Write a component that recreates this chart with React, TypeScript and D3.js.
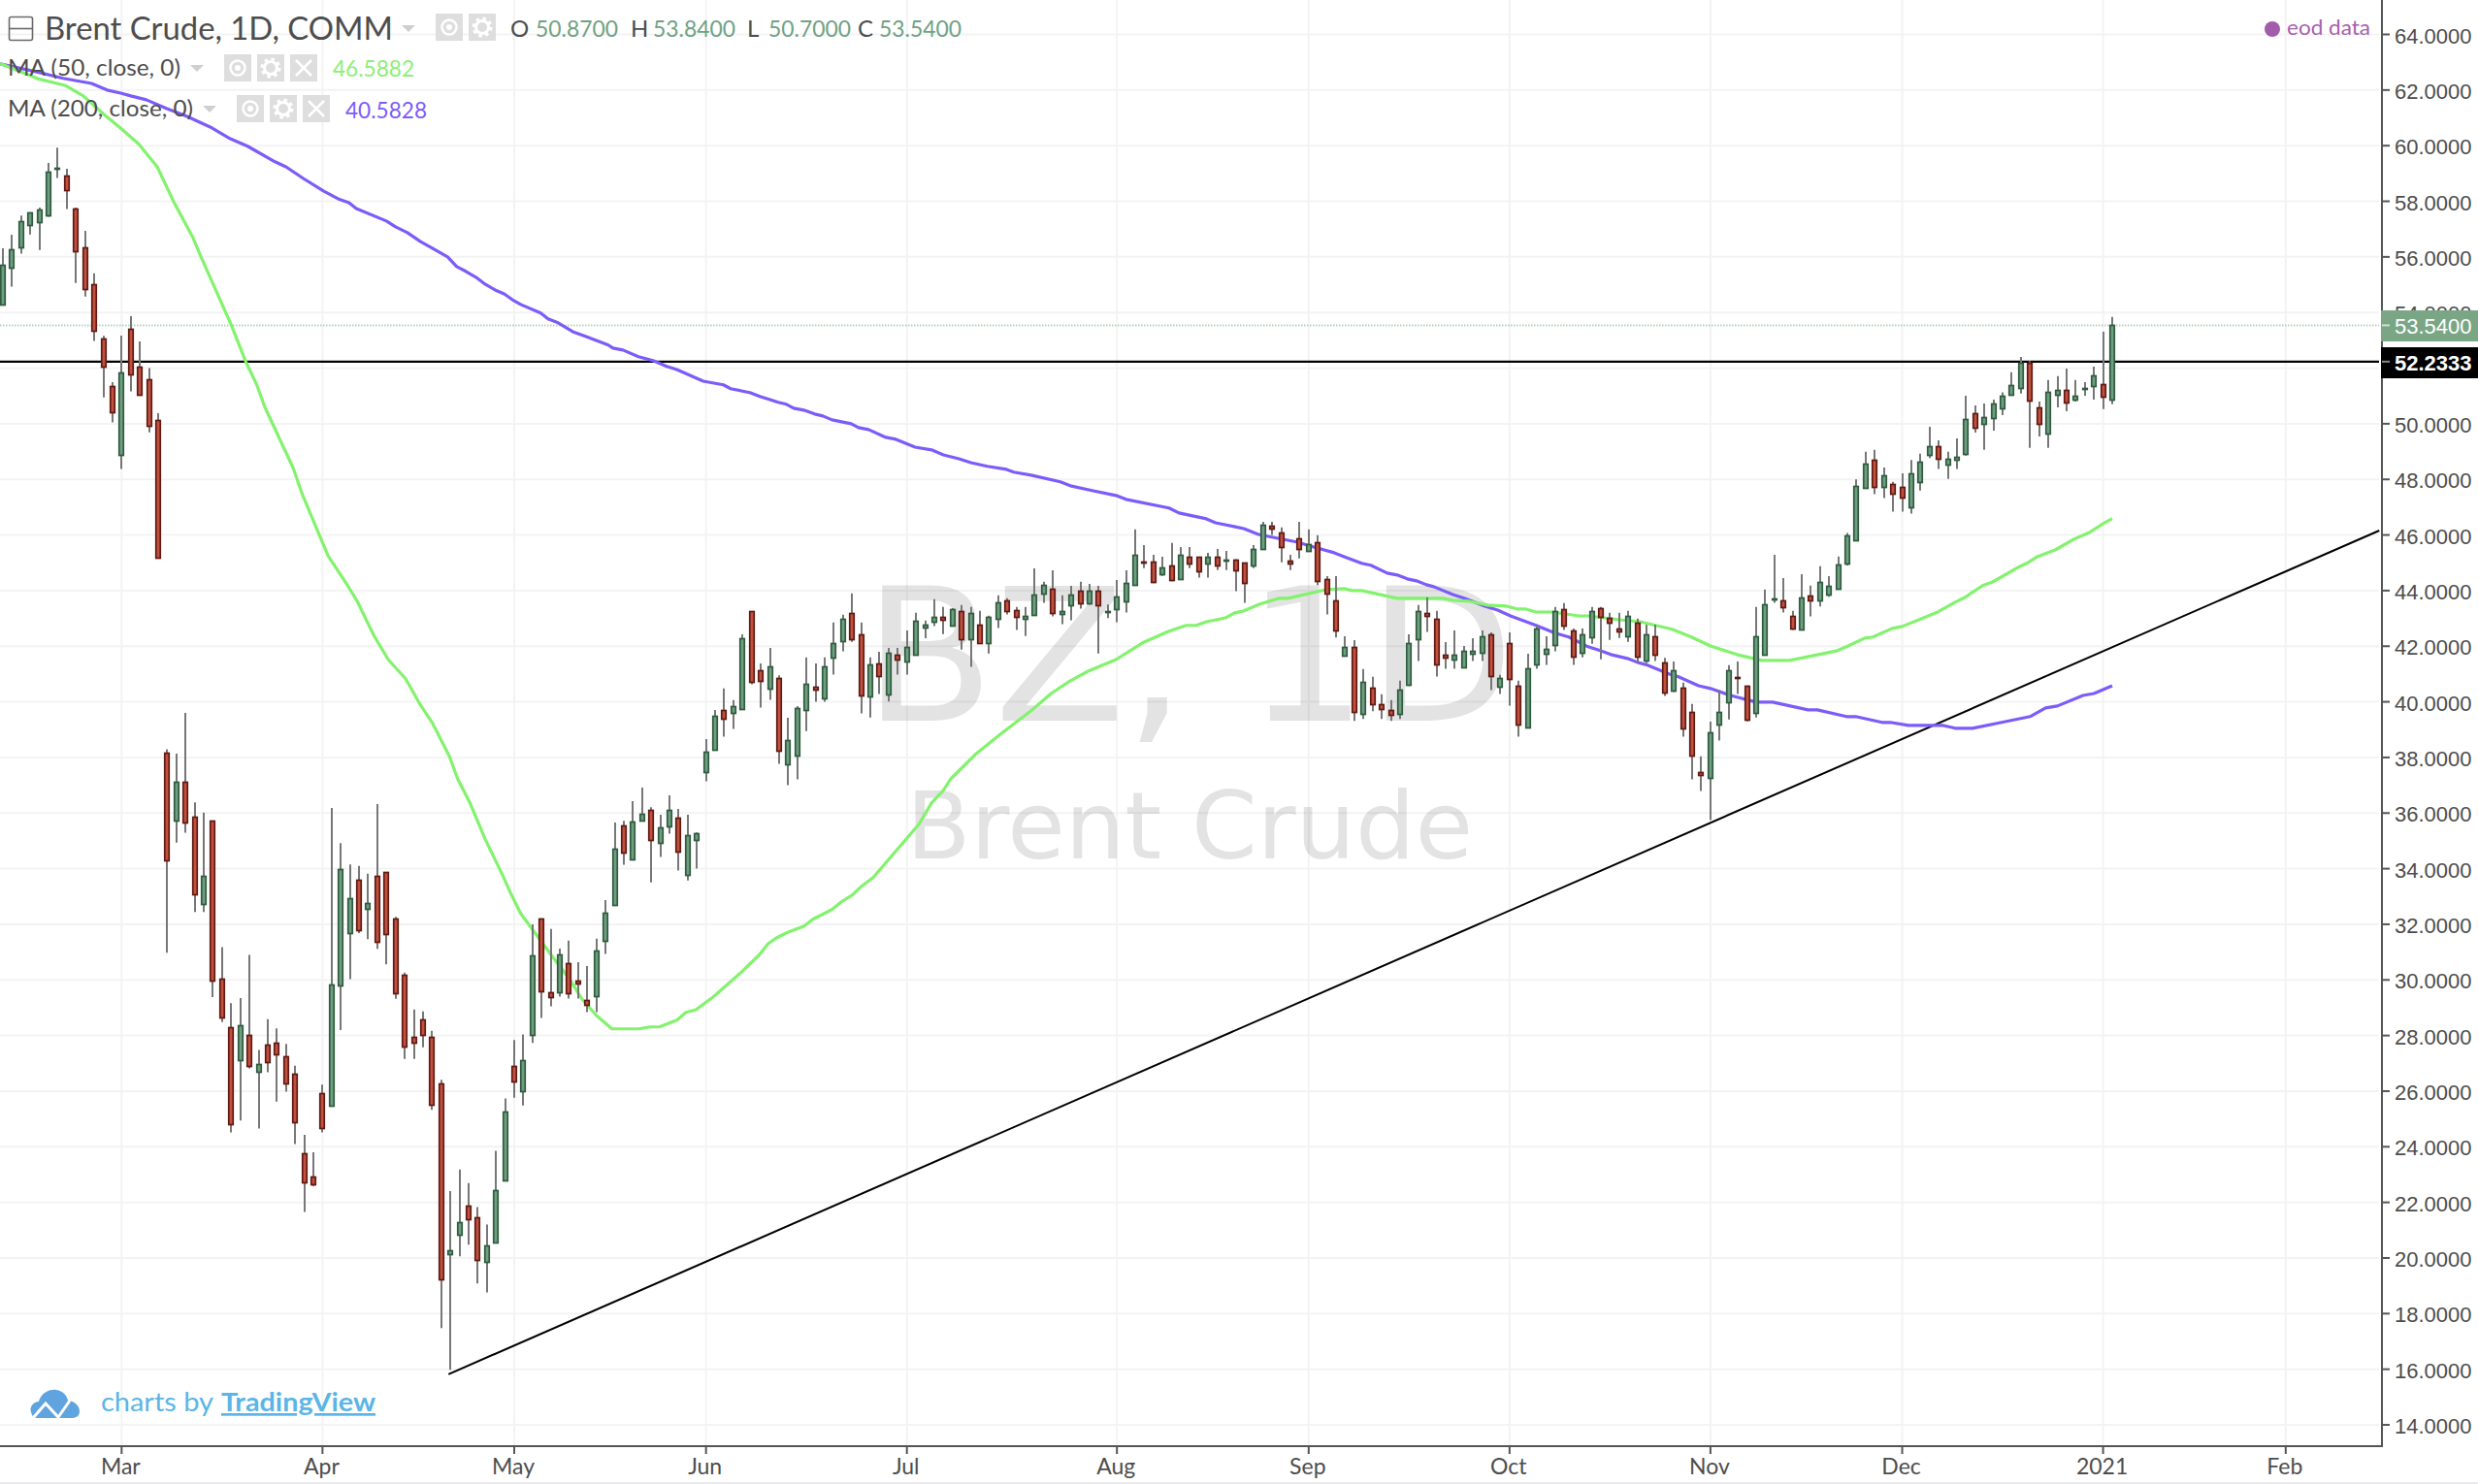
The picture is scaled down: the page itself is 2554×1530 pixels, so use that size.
import React from "react";
import * as d3 from "d3";

const opens = [
  54.31,55.64,56.34,57.17,57.24,57.52,59.20,58.94,57.75,56.36,55.03,53.08,51.34,48.87,53.43,52.05,51.60,50.15,
  38.17,35.73,37.13,35.87,32.73,35.73,30.03,28.31,27.10,28.01,26.69,27.67,27.73,27.25,26.63,23.78,22.93,25.93,25.47,29.81,31.69,33.59,32.53,33.73,33.87,32.20,30.17,27.95,28.57,27.95,26.27,20.14,20.85,21.89,21.47,19.86,20.56,22.79,26.89,25.99,28.01,
  32.22,29.57,29.55,30.62,29.99,29.29,29.41,31.43,32.70,35.57,34.36,35.76,36.13,34.93,35.55,35.85,33.80,35.06,37.50,38.27,39.69,39.60,39.73,43.25,41.15,40.50,40.87,37.78,38.06,39.73,40.54,40.15,41.62,42.18,43.18,42.41,40.22,
  41.39,40.29,41.71,41.48,41.69,42.66,42.86,43.04,42.73,43.25,42.25,42.76,42.10,43.01,43.66,43.31,43.01,43.15,43.92,44.08,43.14,43.50,44.01,43.55,44.01,43.24,43.36,43.64,44.20,45.06,45.06,44.60,44.92,44.41,45.20,45.20,44.96,45.20,45.11,45.13,45.00,44.89,45.52,46.33,46.10,45.07,45.89,45.45,45.75,44.43,
  43.66,41.69,41.99,39.59,40.52,39.90,39.69,39.59,40.64,42.25,43.19,42.97,41.71,41.55,41.27,41.76,41.76,42.41,40.57,42.13,40.59,39.10,41.34,41.76,42.04,43.32,42.55,41.76,42.31,43.38,43.03,42.63,42.38,42.83,41.48,42.34,41.43,40.43,40.52,39.62,37.47,37.29,39.18,40.01,40.89,40.59,39.59,41.69,43.71,43.66,43.10,
  42.60,43.82,43.64,43.85,44.06,44.95,45.81,47.70,48.69,47.70,47.84,47.73,46.98,47.89,48.87,49.19,48.53,48.73,48.92,50.37,49.99,50.20,50.54,51.04,51.31,52.19,50.58,49.62,51.04,51.20,50.87,51.25,51.37,51.41,50.87,
];
const highs = [
  56.31,56.80,57.49,57.61,57.77,59.38,59.93,59.17,57.77,56.94,55.41,53.16,51.50,53.17,53.87,52.96,52.00,50.38,
  38.29,38.14,39.6,36.38,36.02,35.73,31.18,29.16,29.35,30.9,27.48,28.59,28.26,27.7,26.91,24.43,23.8,26.23,36.18,34.92,34.15,34.1,33.82,36.32,33.87,32.27,30.26,28.94,28.87,28.17,26.41,22.41,23.18,22.69,21.83,21.2,23.85,25.74,27.84,28.04,32.0,
  32.22,31.83,31.13,31.41,30.64,30.5,31.48,32.87,35.66,35.72,36.43,36.92,36.21,35.94,36.64,36.15,35.94,35.3,38.66,39.71,40.48,40.06,42.43,43.25,41.38,41.94,40.95,39.43,39.85,41.6,41.38,41.6,42.85,43.13,43.9,42.85,41.6,
  41.8,41.94,41.94,42.57,43.2,42.92,43.69,43.41,43.37,43.48,43.41,43.27,43.1,43.83,43.73,43.41,43.41,44.8,44.32,44.73,43.83,44.17,44.32,44.24,44.17,43.5,44.38,44.73,46.2,45.64,45.29,45.22,45.71,45.57,45.57,45.22,45.36,45.5,45.43,45.13,45.01,45.64,46.47,46.47,46.27,45.29,46.47,46.2,45.99,44.52,
  44.52,42.36,42.22,41.18,40.9,40.27,40.06,40.76,42.43,43.48,43.76,43.27,42.15,42.57,42.01,42.29,42.57,42.5,40.97,42.5,40.76,41.73,42.77,42.36,43.41,43.55,42.64,42.64,43.41,43.41,43.2,43.2,43.27,42.99,42.78,42.78,41.58,41.45,40.69,39.92,38.04,39.29,40.41,41.32,41.45,40.59,43.41,44.04,45.29,44.45,43.27,
  44.59,44.18,44.88,44.52,45.23,46.07,48.0,48.99,49.06,48.43,47.91,48.22,48.7,48.92,49.89,49.4,48.99,49.47,51.01,50.66,50.73,50.87,51.13,51.85,52.4,52.25,50.8,51.57,51.71,51.98,51.57,51.5,52.05,53.31,53.84,
];
const lows = [
  54.31,54.93,56.12,56.81,56.25,57.44,58.84,57.72,55.06,54.57,52.98,50.95,50.05,48.37,51.16,51.03,49.69,45.19,
  30.98,34.94,35.29,32.44,32.44,29.38,28.48,24.52,24.94,26.82,24.66,26.68,25.62,25.98,24.1,21.66,22.58,24.52,25.47,28.2,30.03,31.68,31.47,31.12,30.56,29.32,27.16,27.16,27.58,25.33,17.48,15.98,20.06,20.48,19.08,18.76,20.56,22.79,25.76,25.48,27.73,
  28.63,29.05,29.4,29.33,29.33,28.84,28.84,30.93,32.7,34.14,34.36,35.76,33.51,34.42,35.26,33.93,33.58,34.0,37.14,38.27,38.75,39.03,39.73,40.63,39.79,40.07,37.77,37.0,37.21,38.95,40.0,40.0,40.98,41.82,42.16,39.58,39.44,
  40.28,40.01,40.98,40.98,41.69,42.29,42.72,42.44,42.73,41.88,41.26,42.1,41.74,42.65,43.14,42.58,42.37,43.15,43.56,43.07,42.79,42.93,43.35,43.49,41.74,43.01,42.86,43.21,44.2,44.81,44.27,44.53,44.34,44.41,44.81,44.47,44.47,44.74,44.74,43.98,43.56,44.81,45.52,46.0,45.02,44.74,45.16,45.45,44.2,43.14,
  42.31,41.69,39.31,39.38,39.66,39.38,39.31,39.38,40.57,41.47,42.51,40.91,41.19,41.19,41.27,41.47,41.47,40.42,40.28,39.86,38.75,39.1,41.19,41.33,41.82,42.58,41.33,41.6,42.09,41.53,42.23,42.3,42.16,41.39,41.39,41.47,40.21,40.35,38.75,37.21,36.79,35.75,38.61,39.37,40.28,39.3,39.44,41.69,43.56,43.21,42.58,
  42.6,43.07,43.43,43.78,44.06,44.9,45.81,47.7,47.47,47.33,46.84,46.84,46.77,47.6,48.77,48.37,48.02,48.37,48.85,49.68,49.06,49.75,50.31,51.04,51.09,49.13,49.54,49.13,50.59,50.45,50.8,51.01,50.87,50.53,50.70,
];
const closes = [
  55.73,56.29,57.27,57.61,57.69,59.08,59.22,58.43,56.20,54.87,53.34,52.08,50.41,51.84,51.80,51.03,49.92,45.19,
  34.29,37.13,35.65,33.09,33.73,29.97,28.63,24.81,28.37,26.89,26.97,27.03,27.31,26.27,24.88,22.72,22.65,24.67,29.83,33.99,32.95,31.77,32.75,31.35,31.63,29.53,27.59,27.73,28.00,25.50,19.24,20.29,21.29,21.40,19.94,20.45,22.45,25.25,26.32,27.11,30.88,
  29.62,29.41,30.90,29.55,29.90,29.13,31.04,32.43,34.73,34.58,35.71,35.99,35.06,35.50,36.13,34.64,35.22,35.29,38.22,39.48,39.39,39.83,42.27,40.71,40.78,41.29,38.27,38.64,39.76,40.66,40.42,41.29,42.13,42.97,42.23,40.22,41.36,
  40.92,41.78,41.55,41.99,42.90,42.77,43.04,42.95,43.33,42.25,43.18,42.10,43.04,43.59,43.29,43.08,43.10,43.87,44.22,43.22,43.25,43.87,43.57,44.01,43.50,43.26,43.80,44.29,45.27,45.04,44.34,44.85,44.41,45.27,44.96,44.68,45.20,44.89,45.12,44.75,44.27,45.48,46.38,46.22,45.59,44.95,45.52,45.68,44.34,43.92,
  42.59,41.99,39.66,40.73,39.94,39.73,39.52,40.45,42.13,43.25,43.07,41.34,41.62,41.71,41.85,41.85,42.34,40.92,40.87,40.85,39.18,41.22,42.62,41.92,43.25,42.73,41.62,42.41,43.25,43.08,42.87,42.52,43.10,41.62,42.41,41.69,40.36,41.15,39.04,38.06,37.36,38.92,39.62,41.15,40.85,39.38,42.34,43.52,43.73,43.43,42.66,
  43.75,43.64,44.31,44.17,44.94,45.97,47.77,48.56,47.70,48.13,47.49,47.35,48.21,48.62,49.19,48.73,48.75,48.82,50.16,49.85,50.24,50.72,51.00,51.40,52.20,50.82,49.99,51.13,51.20,50.75,51.00,51.27,51.75,50.97,53.54,
];

const ma50At = [-0.3,4,6.8,8.8,11.2,13,14.9,16.9,18.8,20.8,21.7,25,26.6,27.8,28.7,31.8,32.8,35.6,37.7,38.8,40.6,42.2,44.1,45.7,47,48.9,49.8,51.2,52.8,54.7,55.7,56.7,57.9,59.9,62.1,63.4,65,66.7,69.6,70.9,71.9,73.8,74.8,75.9,77.8,79.7,80.8,82.8,83.8,84.7,86,87.7,88.7,90.8,91.8,93,93.9,95.3,100.3,101.7,103,103.8,106.5,109.1,112.6,114.8,116.9,118.9,121.9,124.8,127.7,129.6,130.7,131.8,133.9,134.9,135.9,137.6,139.7,140.7,145,146.9,147.7,148.8,152.7,157.7,158.8,160.5,162.6,164.7,165.8,166.7,167.9,169.7,172.6,173.6,177.1,179.3,182.8,184.9,187,189.9,192.6,195.7,200.9,201.9,203.9,204.8,206.9,208,211.9,213.8,214.9,216.8,217.9,220.9,221.8,222.8,224.8,226.8,228.5,230,231];
const ma50Val = [62.95,62.39,62.17,61.79,61.09,60.6,60.05,59.24,57.92,56.7,56,53.56,52.23,51.4,50.59,48.4,47.45,45.26,44.21,43.62,42.4,41.52,40.83,39.9,39.26,38.04,37.23,36.33,35.07,33.78,33.05,32.39,31.86,30.96,30.01,29.32,28.72,28.24,28.24,28.31,28.31,28.55,28.83,28.93,29.39,29.94,30.26,30.89,31.3,31.51,31.72,31.93,32.18,32.53,32.8,33.05,33.33,33.68,35.59,36.36,36.82,37.23,38.11,38.8,39.68,40.3,40.76,41.11,41.52,42.12,42.54,42.75,42.75,42.88,43.02,43.2,43.27,43.51,43.72,43.72,44.04,44.07,44,44,43.72,43.72,43.65,43.62,43.48,43.44,43.34,43.34,43.23,43.23,43.09,43.09,42.95,42.88,42.61,42.33,42.01,41.7,41.49,41.49,41.84,41.98,42.29,42.33,42.64,42.71,43.23,43.58,43.76,44.18,44.31,44.87,45.01,45.22,45.47,45.85,46.09,46.41,46.59];

const ma200At = [-0.3,3.6,6.6,9.7,11.4,12.9,14,15.7,17.9,20.1,22.7,24.9,26.8,29.8,31,32.9,35.1,36.7,37.9,38.7,42,43,44.3,45.7,48.7,49.7,50.7,51.8,52.8,53.9,54.9,55.8,56.7,58.9,59.7,60.8,62.4,63.8,66.3,66.8,67.9,69.6,71.2,72.7,73.8,76.7,78.9,79.7,81.8,82.9,84,84.9,85.8,86.6,87.7,88.9,89.8,90.8,92.9,93.7,94.8,96.7,97.8,99.9,101.7,103,104.7,106,107.8,109.9,110.7,112.6,115.8,116.9,119.4,121.9,123,127.7,128.8,131.8,132.8,135.9,137.5,141.8,143.1,145.8,147.1,148.8,149.8,151.6,152.7,153.8,154.8,155.9,156.7,158.8,160.1,162.3,163.7,165.1,167.9,170,171.5,173.6,174.7,176.1,177.9,179,180.1,182.5,183.5,185.7,187,189.2,192,193.8,197.7,198.7,201.9,202.9,205.8,206.7,208.7,212.5,213.8,215.7,218.9,222,223.7,225,227.8,229,231];
const ma200Val = [62.94,62.66,62.42,62.24,62,61.89,61.79,61.65,61.34,61.06,60.67,60.25,59.98,59.42,59.24,58.82,58.37,58.09,57.95,57.74,57.29,57.08,56.87,56.56,56,55.65,55.48,55.27,55.02,54.81,54.67,54.46,54.29,53.98,53.77,53.63,53.31,53.14,52.83,52.72,52.65,52.41,52.27,52.06,51.95,51.53,51.4,51.26,51.12,50.98,50.87,50.77,50.7,50.56,50.49,50.35,50.28,50.14,50,49.86,49.79,49.51,49.44,49.16,49.06,48.88,48.74,48.6,48.47,48.36,48.26,48.15,47.91,47.77,47.59,47.42,47.28,46.97,46.79,46.58,46.44,46.23,46.02,45.74,45.61,45.36,45.19,44.98,44.91,44.63,44.56,44.42,44.35,44.21,44.14,43.86,43.72,43.44,43.3,43.09,42.75,42.47,42.33,41.98,41.87,41.7,41.56,41.42,41.32,41,40.9,40.58,40.48,40.23,39.99,39.99,39.71,39.71,39.47,39.47,39.26,39.26,39.15,39.15,39.05,39.05,39.26,39.47,39.78,39.85,40.23,40.3,40.58];

const priceTicks = d3.range(14, 65, 2);
const monthLabels = ["Mar","Apr","May","Jun","Jul","Aug","Sep","Oct","Nov","Dec","2021","Feb"];
const monthAt = [13,35,56,77,99,122,143,165,187,208,230,250];
const trendAt = [48.8, 260.25];
const trendVal = [15.82, 46.16];
const hLevel = 52.2333;
const lastClose = 53.54;
const ohlcLabels = ["O","H","L","C"];
const ohlcValues = ["50.8700","53.8400","50.7000","53.5400"];

const W = 2554, H = 1530;
const axisX = 2455, axisY = 1491;
const x = d3.scaleLinear().domain([0, 231]).range([3, 2177]);
const y = d3.scaleLinear().domain([14, 64]).range([1469, 35.5]);
const UI = "Lato, 'Open Sans', sans-serif";
const AX = "'Liberation Sans', Arial, sans-serif";
const DARK = "#4d4d4d";

const line = d3.line<number>().x((d) => x(d)).curve(d3.curveLinear);
const path = (at: number[], val: number[]) =>
  line.y((_, i) => y(val[i]))(at) as string;

function Icon({ px, py, kind }: { px: number; py: number; kind: string }) {
  const cx = px + 14, cy = py + 14;
  return (
    <g>
      <rect x={px} y={py} width={28} height={28} fill="#dedede" />
      {kind === "eye" && (
        <g>
          <circle cx={cx} cy={cy} r={7.5} fill="none" stroke="#fff" strokeWidth={2.4} />
          <circle cx={cx} cy={cy} r={3} fill="#fff" />
        </g>
      )}
      {kind === "gear" && (
        <g>
          <circle cx={cx} cy={cy} r={6.5} fill="none" stroke="#fff" strokeWidth={3} />
          <circle cx={cx} cy={cy} r={9} fill="none" stroke="#fff" strokeWidth={3} strokeDasharray="3.5 3.6" />
        </g>
      )}
      {kind === "x" && (
        <g stroke="#fff" strokeWidth={2.5}>
          <line x1={cx - 8} y1={cy - 8} x2={cx + 8} y2={cy + 8} />
          <line x1={cx + 8} y1={cy - 8} x2={cx - 8} y2={cy + 8} />
        </g>
      )}
    </g>
  );
}

function Arrow({ ax, ay, w, h }: { ax: number; ay: number; w: number; h: number }) {
  return <path d={`M${ax},${ay}L${ax + w},${ay}L${ax + w / 2},${ay + h}Z`} fill="#cfcfcf" />;
}

export default function App() {
  const ohlcLabelX = [526, 650, 770, 884];
  const ohlcValueX = [552, 673, 792, 906];
  return (
    <svg
      width={W}
      height={H}
      viewBox={`0 0 ${W} ${H}`}
      style={{ position: "absolute", left: 0, top: 0, background: "#fff", display: "block" }}
    >
      <rect x={0} y={0} width={W} height={H} fill="#fff" />
      <rect x={0} y={1528} width={W} height={2} fill="#e9e9ee" />

      {/* grid */}
      <g stroke="#f3f3f3" strokeWidth={2}>
        {priceTicks.map((t) => (
          <line key={t} x1={0} x2={axisX - 3} y1={y(t)} y2={y(t)} />
        ))}
        {monthAt.map((m) => (
          <line key={m} x1={x(m)} x2={x(m)} y1={0} y2={axisY} />
        ))}
      </g>

      {/* watermark */}
      <g fill="rgba(60,60,60,0.14)" fontFamily="'DejaVu Sans', sans-serif">
        <text x={890} y={743} fontSize={191} textLength={671} lengthAdjust="spacingAndGlyphs">BZ, 1D</text>
        <text x={934} y={885} fontSize={96} textLength={584} lengthAdjust="spacingAndGlyphs">Brent Crude</text>
      </g>

      {/* last price */}
      <line x1={0} x2={axisX - 3} y1={y(lastClose)} y2={y(lastClose)} stroke="#b5d2bd" strokeWidth={2} strokeDasharray="1.5 1.5" />

      {/* drawings */}
      <line x1={0} x2={axisX - 3} y1={y(hLevel)} y2={y(hLevel)} stroke="#000" strokeWidth={2.4} />
      <line x1={x(trendAt[0])} y1={y(trendVal[0])} x2={x(trendAt[1])} y2={y(trendVal[1])} stroke="#000" strokeWidth={2} />

      {/* moving averages */}
      <path d={path(ma200At, ma200Val)} fill="none" stroke="#7c5cf9" strokeWidth={3.2} strokeLinejoin="round" />
      <path d={path(ma50At, ma50Val)} fill="none" stroke="#83f26d" strokeWidth={3.2} strokeLinejoin="round" />

      {/* candles */}
      <g>
        {opens.map((o, i) => {
          const c = closes[i];
          const up = c >= o;
          const cx = Math.round(x(i));
          const top = y(Math.max(o, c));
          const bot = y(Math.min(o, c));
          return (
            <g key={i}>
              <line x1={cx} x2={cx} y1={y(highs[i])} y2={y(lows[i])} stroke="#777" strokeWidth={2} />
              <rect
                x={cx - 2.25}
                y={Math.round(top) + 0.5}
                width={4.5}
                height={Math.max(Math.round(bot - top), 1)}
                fill={up ? "#6f9f80" : "#c2513d"}
                stroke={up ? "#2f5b3f" : "#5f1a14"}
                strokeWidth={1.7}
              />
            </g>
          );
        })}
      </g>

      {/* axes */}
      <rect x={axisX} y={0} width={W - axisX} height={axisY} fill="#fff" />
      <g stroke="#555" strokeWidth={2}>
        <line x1={axisX} x2={axisX} y1={0} y2={axisY + 1} />
        <line x1={0} x2={axisX} y1={axisY} y2={axisY} />
        {priceTicks.map((t) => (
          <line key={t} x1={axisX} x2={axisX + 8} y1={y(t)} y2={y(t)} />
        ))}
        {monthAt.map((m) => (
          <line key={m} x1={x(m)} x2={x(m)} y1={axisY} y2={axisY + 8} />
        ))}
      </g>
      <g fontFamily={AX} fontSize={22} fill={DARK}>
        {priceTicks.map((t) => (
          <text key={t} x={2468} y={y(t) + 9}>{t.toFixed(4)}</text>
        ))}
      </g>
      <g fontFamily={UI} fontSize={23} fill={DARK} textAnchor="middle">
        {monthLabels.map((m, i) => (
          <text key={m} x={x(monthAt[i]) - 1} y={1520}>{m}</text>
        ))}
      </g>

      {/* price labels */}
      <rect x={axisX - 1} y={320} width={W - axisX + 1} height={32} fill="#7aa685" />
      <line x1={axisX} x2={axisX + 8} y1={y(lastClose)} y2={y(lastClose)} stroke="#cfe0d3" strokeWidth={2} />
      <text x={2468} y={344} fontFamily={AX} fontSize={22} fill="#fff">{lastClose.toFixed(4)}</text>
      <rect x={axisX - 1} y={358} width={W - axisX + 1} height={32} fill="#000" />
      <line x1={axisX} x2={axisX + 8} y1={y(hLevel)} y2={y(hLevel)} stroke="#888" strokeWidth={2} />
      <text x={2468} y={382} fontFamily={AX} fontSize={22} fontWeight={700} fill="#fff">{hLevel.toFixed(4)}</text>

      {/* legend */}
      <rect x={9.5} y={17.5} width={24} height={24} rx={2} fill="none" stroke="#6a6a6a" strokeWidth={1.6} />
      <line x1={9.5} x2={33.5} y1={29.5} y2={29.5} stroke="#6a6a6a" strokeWidth={1.6} />
      <text x={46} y={41} fontFamily={UI} fontSize={32} fill={DARK} textLength={359} lengthAdjust="spacingAndGlyphs">Brent Crude, 1D, COMM</text>
      <Arrow ax={414} ay={26} w={14} h={7} />
      <Icon px={449} py={14} kind="eye" />
      <Icon px={483} py={14} kind="gear" />
      {ohlcLabels.map((l, i) => (
        <g key={l} fontFamily={UI} fontSize={24}>
          <text x={ohlcLabelX[i]} y={38} fill={DARK}>{l}</text>
          <text x={ohlcValueX[i]} y={38} fill="#6fa283" textLength={85} lengthAdjust="spacingAndGlyphs">{ohlcValues[i]}</text>
        </g>
      ))}

      <text x={8} y={78} fontFamily={UI} fontSize={23} fill={DARK} textLength={178} lengthAdjust="spacingAndGlyphs">MA (50, close, 0)</text>
      <Arrow ax={196} ay={67} w={14} h={7} />
      <Icon px={231} py={56} kind="eye" />
      <Icon px={265} py={56} kind="gear" />
      <Icon px={299} py={56} kind="x" />
      <text x={343} y={79} fontFamily={UI} fontSize={24} fill="#8cf075" textLength={84} lengthAdjust="spacingAndGlyphs">46.5882</text>

      <text x={8} y={120} fontFamily={UI} fontSize={23} fill={DARK} textLength={191} lengthAdjust="spacingAndGlyphs">MA (200, close, 0)</text>
      <Arrow ax={209} ay={109} w={14} h={7} />
      <Icon px={244} py={98} kind="eye" />
      <Icon px={278} py={98} kind="gear" />
      <Icon px={312} py={98} kind="x" />
      <text x={356} y={122} fontFamily={UI} fontSize={24} fill="#7c5cf9" textLength={84} lengthAdjust="spacingAndGlyphs">40.5828</text>

      <circle cx={2342} cy={30} r={8} fill="#a35cab" />
      <text x={2357} y={36} fontFamily={UI} fontSize={22} fill="#a55fae" textLength={86} lengthAdjust="spacingAndGlyphs">eod data</text>

      {/* logo */}
      <path
        d="M32,1456 C30,1450 35,1445 40,1445 C42,1437 50,1432 58,1433 C65,1434 69,1439 70,1444 C76,1444 82,1449 82,1455 C82,1460 78,1462 74,1462 L38,1462 C35,1462 33,1460 32,1456 Z"
        fill="#5fa3df"
      />
      <path d="M34,1462 L47,1447 L60,1461 L72,1444" fill="none" stroke="#fff" strokeWidth={3} />
      <text x={104} y={1455} fontFamily={UI} fontSize={27} fill="#5bb5e6" textLength={116} lengthAdjust="spacingAndGlyphs">charts by</text>
      <text x={228} y={1455} fontFamily={UI} fontSize={27} fontWeight={700} fill="#5bb5e6" textLength={159} lengthAdjust="spacingAndGlyphs" textDecoration="underline">TradingView</text>
    </svg>
  );
}
